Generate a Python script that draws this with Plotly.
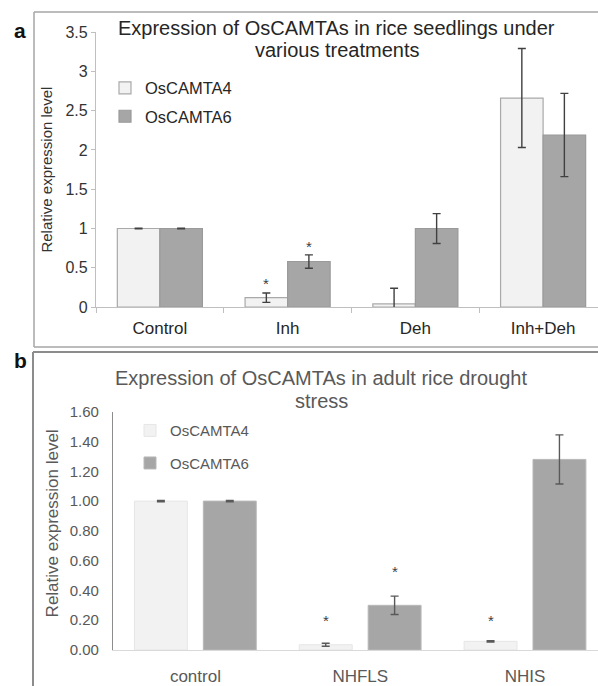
import plotly.graph_objects as go

# ---------------- data ----------------
cats_a = ["Control", "Inh", "Deh", "Inh+Deh"]
a_camta4 = [1.00, 0.12, 0.04, 2.66]
a_camta4_err = [0.005, 0.06, 0.20, 0.63]
a_camta6 = [1.00, 0.58, 1.00, 2.19]
a_camta6_err = [0.005, 0.085, 0.19, 0.53]
a_star4 = [None, 0.32, None, None]
a_star6 = [None, 0.80, None, None]

cats_b = ["control", "NHFLS", "NHIS"]
b_camta4 = [1.00, 0.035, 0.058]
b_camta4_err = [0.004, 0.01, 0.004]
b_camta6 = [1.00, 0.30, 1.28]
b_camta6_err = [0.004, 0.062, 0.165]
b_star4 = [None, 0.21, 0.21]
b_star6 = [None, 0.54, None]

title_a = ["Expression of OsCAMTAs in rice seedlings under", "various treatments"]
title_b = ["Expression of OsCAMTAs in adult rice drought", "stress"]
ytitle = "Relative expression level"

FONT = "Liberation Sans, Arial, sans-serif"
W, H = 598, 686
LIGHT = "#f2f2f2"
DARK = "#a6a6a6"


def py(y):
    """vertical position in paper units for a pixel row (top-down)."""
    return 1 - ((y - 8.9) / 0.9726) / H


def px(x):
    return x / W


fig = go.Figure()

wa = 0.333
fig.add_trace(go.Bar(
    x=cats_a, y=a_camta4, name="OsCAMTA4", xaxis="x", yaxis="y",
    width=wa, offset=-wa,
    marker=dict(color=LIGHT, line=dict(color="#a9a9a9", width=1.2)),
    error_y=dict(type="data", array=a_camta4_err, color="#404040", thickness=1.4, width=4),
    legend="legend", legendgroup="a4"))
fig.add_trace(go.Bar(
    x=cats_a, y=a_camta6, name="OsCAMTA6", xaxis="x", yaxis="y",
    width=wa, offset=0,
    marker=dict(color=DARK, line=dict(color="#9a9a9a", width=1.2)),
    error_y=dict(type="data", array=a_camta6_err, color="#404040", thickness=1.4, width=4),
    legend="legend", legendgroup="a6"))

wb = 0.321
off4, off6 = -0.370, 0.048
fig.add_trace(go.Bar(
    x=cats_b, y=b_camta4, name="OsCAMTA4", xaxis="x2", yaxis="y2",
    width=wb, offset=off4,
    marker=dict(color=LIGHT, line=dict(color="#e6e6e6", width=1)),
    error_y=dict(type="data", array=b_camta4_err, color="#595959", thickness=1.4, width=4),
    legend="legend2", legendgroup="b4"))
fig.add_trace(go.Bar(
    x=cats_b, y=b_camta6, name="OsCAMTA6", xaxis="x2", yaxis="y2",
    width=wb, offset=off6,
    marker=dict(color=DARK, line=dict(color="#b8b8b8", width=1)),
    error_y=dict(type="data", array=b_camta6_err, color="#595959", thickness=1.4, width=4),
    legend="legend2", legendgroup="b6"))

ann = []
star_font = dict(family=FONT, size=15, color="#404040")
for i, v in enumerate(a_star4):
    if v is not None:
        ann.append(dict(x=i - wa / 2, y=v, xref="x", yref="y", text="*", showarrow=False,
                        font=star_font, yanchor="middle", yshift=-2))
for i, v in enumerate(a_star6):
    if v is not None:
        ann.append(dict(x=i + wa / 2, y=v, xref="x", yref="y", text="*", showarrow=False,
                        font=star_font, yanchor="middle", yshift=-2))
for i, v in enumerate(b_star4):
    if v is not None:
        ann.append(dict(x=i + off4 + wb / 2, y=v, xref="x2", yref="y2", text="*", showarrow=False,
                        font=star_font, yanchor="middle", yshift=-2))
for i, v in enumerate(b_star6):
    if v is not None:
        ann.append(dict(x=i + off6 + wb / 2, y=v, xref="x2", yref="y2", text="*", showarrow=False,
                        font=star_font, yanchor="middle", yshift=-2))

tfa = dict(family=FONT, size=20, color="#262626")
tfb = dict(family=FONT, size=20, color="#595959")
ann += [
    dict(x=px(336.5), y=py(28), xref="paper", yref="paper", text=title_a[0], showarrow=False,
         font=tfa, xanchor="center", yanchor="middle"),
    dict(x=px(337), y=py(50), xref="paper", yref="paper", text=title_a[1], showarrow=False,
         font=tfa, xanchor="center", yanchor="middle"),
    dict(x=px(320.5), y=py(379), xref="paper", yref="paper", text=title_b[0], showarrow=False,
         font=tfb, xanchor="center", yanchor="middle"),
    dict(x=px(321), y=py(402), xref="paper", yref="paper", text=title_b[1], showarrow=False,
         font=tfb, xanchor="center", yanchor="middle"),
    dict(x=px(47), y=py(170), xref="paper", yref="paper", text=ytitle, showarrow=False, textangle=-90,
         font=dict(family=FONT, size=15, color="#333333"), xanchor="center", yanchor="middle"),
    dict(x=px(52), y=py(525), xref="paper", yref="paper", text=ytitle, showarrow=False, textangle=-90,
         font=dict(family=FONT, size=17, color="#595959"), xanchor="center", yanchor="middle"),
    dict(x=px(20), y=py(30), xref="paper", yref="paper", text="<b>a</b>", showarrow=False,
         font=dict(family=FONT, size=21, color="#111111"), xanchor="center", yanchor="middle"),
    dict(x=px(20), y=py(362), xref="paper", yref="paper", text="<b>b</b>", showarrow=False,
         font=dict(family=FONT, size=21, color="#111111"), xanchor="center", yanchor="middle"),
]

shapes = [
    dict(type="line", xref="paper", yref="paper", x0=px(34), x1=1.01, y0=py(12), y1=py(12),
         line=dict(color="#a6a6a6", width=1.5)),
    dict(type="line", xref="paper", yref="paper", x0=px(34), x1=px(34), y0=py(12), y1=py(348),
         line=dict(color="#a6a6a6", width=1.5)),
    dict(type="line", xref="paper", yref="paper", x0=px(34), x1=1.01, y0=py(348), y1=py(348),
         line=dict(color="#a6a6a6", width=1.5)),
    dict(type="line", xref="paper", yref="paper", x0=px(33), x1=1.01, y0=py(353), y1=py(353),
         line=dict(color="#8c8c8c", width=2)),
    dict(type="line", xref="paper", yref="paper", x0=px(33), x1=px(33), y0=py(353), y1=-0.02,
         line=dict(color="#8c8c8c", width=2)),
]

fig.update_layout(
    width=W, height=H, margin=dict(l=0, r=0, t=0, b=0),
    paper_bgcolor="white", plot_bgcolor="white",
    barmode="overlay",
    font=dict(family=FONT),
    annotations=ann, shapes=shapes,
    xaxis=dict(domain=[px(96), 1], range=[-0.5, 3.5 - 9 / 128], type="category",
               showline=True, linecolor="#bfbfbf", linewidth=1.2,
               ticks="outside", tickson="boundaries", ticklen=5, tickcolor="#bfbfbf",
               showgrid=False, zeroline=False, ticklabelstandoff=5,
               tickfont=dict(family=FONT, size=17, color="#262626"), anchor="y"),
    yaxis=dict(domain=[py(308), py(32)], range=[0, 3.5], dtick=0.5,
               showline=True, linecolor="#bfbfbf", linewidth=1.2,
               ticks="outside", ticklen=4, tickcolor="#bfbfbf",
               showgrid=False, zeroline=False,
               tickfont=dict(family=FONT, size=16, color="#333333"), anchor="x"),
    xaxis2=dict(domain=[px(113), 1], range=[-0.5, 2.5 - 9.5 / 165], type="category",
                showline=True, linecolor="#d9d9d9", linewidth=1.2, ticks="",
                showgrid=False, zeroline=False, ticklabelstandoff=11,
                tickfont=dict(family=FONT, size=17, color="#595959"), anchor="y2"),
    yaxis2=dict(domain=[py(652), py(413)], range=[0, 1.6], dtick=0.2, tickformat=".2f",
                showline=True, linecolor="#8c8c8c", linewidth=1.2, ticks="",
                showgrid=False, zeroline=False, ticklabelstandoff=10,
                tickfont=dict(family=FONT, size=15, color="#595959"), anchor="x2"),
    legend=dict(x=px(105), y=1 - 63.5 / H, xanchor="left", yanchor="top",
                bgcolor="rgba(0,0,0,0)", traceorder="grouped", tracegroupgap=4,
                font=dict(family=FONT, size=16.5, color="#262626")),
    legend2=dict(x=px(130), y=1 - 418 / H, xanchor="left", yanchor="top",
                 bgcolor="rgba(0,0,0,0)", traceorder="grouped", tracegroupgap=10,
                 font=dict(family=FONT, size=15, color="#595959")),
)

fig.write_html(
    "out.html",
    config=dict(displayModeBar=False),
    post_script="document.body.style.margin='0';document.body.style.padding='0';"
                "document.body.style.overflow='hidden';"
                "document.documentElement.style.overflow='hidden';",
)
